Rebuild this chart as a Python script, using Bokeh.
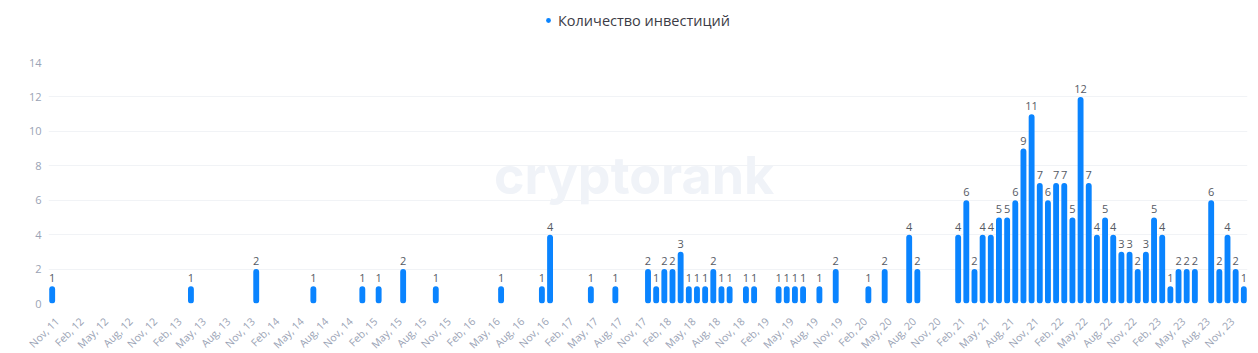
import math
import pandas as pd
from bokeh.plotting import figure
from bokeh.layouts import column
from bokeh.models import (ColumnDataSource, FixedTicker, Legend, LegendItem,
                          Label, LabelSet, Range1d)
from bokeh.core.properties import value
from bokeh.embed import file_html
from bokeh.resources import INLINE

# ---- data ----
series_name = "Количество инвестиций"
axis_start = "2011-11"
axis_end = "2024-01"

months = [
    "2011-11", "2013-04", "2013-12", "2014-07", "2015-01", "2015-03", "2015-06",
    "2015-10", "2016-06", "2016-11", "2016-12", "2017-05", "2017-08", "2017-12",
    "2018-01", "2018-02", "2018-03", "2018-04", "2018-05", "2018-06", "2018-07",
    "2018-08", "2018-09", "2018-10", "2018-12", "2019-01", "2019-04", "2019-05",
    "2019-06", "2019-07", "2019-09", "2019-11", "2020-03", "2020-05", "2020-08",
    "2020-09", "2021-02", "2021-03", "2021-04", "2021-05", "2021-06", "2021-07",
    "2021-08", "2021-09", "2021-10", "2021-11", "2021-12", "2022-01", "2022-02",
    "2022-03", "2022-04", "2022-05", "2022-06", "2022-07", "2022-08", "2022-09",
    "2022-10", "2022-11", "2022-12", "2023-01", "2023-02", "2023-03", "2023-04",
    "2023-05", "2023-06", "2023-07", "2023-09", "2023-10", "2023-11", "2023-12",
    "2024-01",
]
counts = [
    1, 1, 2, 1, 1, 1, 2,
    1, 1, 1, 4, 1, 1, 2,
    1, 2, 2, 3, 1, 1, 1,
    2, 1, 1, 1, 1, 1, 1,
    1, 1, 1, 2, 1, 2, 4,
    2, 4, 6, 2, 4, 4, 5,
    5, 6, 9, 11, 7, 6, 7,
    7, 5, 12, 7, 4, 5, 4,
    3, 3, 2, 3, 5, 4, 1,
    2, 2, 2, 6, 2, 4, 2,
    1,
]
y_ticks = [0, 2, 4, 6, 8, 10, 12, 14]

all_months = pd.period_range(axis_start, axis_end, freq="M")
pos = {str(m): i for i, m in enumerate(all_months)}
tick_positions = list(range(0, len(all_months), 3))
tick_labels = [all_months[i].strftime("%b, %y") for i in tick_positions]

src = ColumnDataSource(dict(
    x=[pos[m] for m in months],
    y=counts,
    lbl=[str(c) for c in counts],
))

FONT = "Open Sans"
BLUE = "#0a84ff"
AXIS_GREY = "#9aa3b5"
W = 1258
LEG_H = 54
MAIN_H = 257
AX_H = 353 - LEG_H - MAIN_H
ML, MR = 48, 11
X0, X1 = -0.45, len(all_months) - 0.55

# ---- legend strip ----
leg = figure(width=W, height=LEG_H, output_backend="svg", toolbar_location=None,
             x_range=Range1d(0, W), y_range=Range1d(0, LEG_H), min_border=0,
             frame_align=False)
leg.axis.visible = False
leg.grid.visible = False
leg.outline_line_color = None
dot = leg.scatter(x=[-1000], y=[-1000], marker="circle", size=8,
                  fill_color=BLUE, line_color=None)
legend = Legend(items=[LegendItem(label=series_name, renderers=[dot])],
                location=(542, 24), orientation="horizontal",
                label_text_font=FONT, label_text_font_size="14.5px",
                label_text_color="#3c3c46", glyph_width=12, glyph_height=12,
                label_height=20, label_standoff=4, padding=0, margin=0,
                spacing=0, border_line_color=None, background_fill_alpha=0)
leg.add_layout(legend)

# ---- main chart ----
p = figure(width=W, height=MAIN_H, output_backend="svg",
           toolbar_location=None,
           x_range=Range1d(X0, X1), y_range=(0, 14),
           min_border_left=ML, min_border_right=MR, min_border_top=8,
           min_border_bottom=8, frame_align=False)
p.outline_line_color = None
p.background_fill_color = "white"
p.border_fill_color = "white"
p.xaxis.visible = False

# watermark
p.add_layout(Label(x=71.3, y=7.45, text="cryptorank", text_align="center",
                   text_baseline="alphabetic", text_font="Inter",
                   text_font_style="bold",
                   text_font_size="52px", text_color="#f0f3f8", level="underlay"))

p.vbar(x="x", top="y", bottom=0, width=0.72, source=src, fill_color=BLUE,
       line_color=None, border_radius=3)

labels = LabelSet(x="x", y="y", text="lbl", source=src, y_offset=4,
                  text_align="center", text_baseline="bottom",
                  text_font=value(FONT), text_font_size="11px",
                  text_color="#555a64")
p.add_layout(labels)

p.yaxis.ticker = FixedTicker(ticks=y_ticks)
p.yaxis.axis_line_color = None
p.yaxis.major_tick_line_color = None
p.yaxis.minor_tick_line_color = None
p.yaxis.major_tick_out = 0
p.yaxis.major_tick_in = 0
p.yaxis.minor_tick_out = 0
p.yaxis.major_label_text_font = FONT
p.yaxis.major_label_text_font_size = "11px"
p.yaxis.major_label_text_color = AXIS_GREY
p.yaxis.major_label_standoff = 7

p.xgrid.grid_line_color = None
p.ygrid.ticker = FixedTicker(ticks=y_ticks)
p.ygrid.grid_line_color = "#f1f3f6"
p.ygrid.grid_line_width = 1

# ---- x tick-label strip: same x scale as the chart, frame spans full width ----
k = (W - ML - MR) / (X1 - X0)
ax = figure(width=W, height=AX_H, output_backend="svg", toolbar_location=None,
            x_range=Range1d(X0 - ML / k, X1 + MR / k),
            y_range=Range1d(AX_H, 0), min_border=0, frame_align=False)
ax.axis.visible = False
ax.grid.visible = False
ax.outline_line_color = None
ax.text(x=tick_positions, y=[3] * len(tick_positions), text=tick_labels,
        angle=math.pi / 4, text_align="right", text_baseline="top",
        text_font=value(FONT), text_font_size="10.5px", text_color=AXIS_GREY)

layout = column(leg, p, ax, spacing=0)
open("out.html", "w").write(file_html(layout, INLINE))
